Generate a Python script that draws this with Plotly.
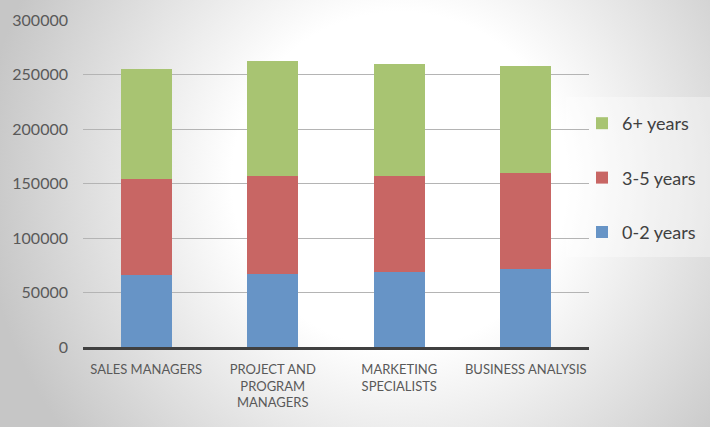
import base64
import plotly.graph_objects as go

categories = ["SALES MANAGERS", "PROJECT AND<br>PROGRAM<br>MANAGERS", "MARKETING<br>SPECIALISTS", "BUSINESS ANALYSIS"]
years_0_2 = [66200, 67100, 68700, 72000]
years_3_5 = [87600, 89800, 88300, 87600]
years_6_plus = [101700, 105900, 103000, 98600]
y_ticks = [0, 50000, 100000, 150000, 200000, 250000, 300000]

W, H = 710, 427
L, R, T, B = 83, 121, 20, 80
PW, PH = W - L - R, H - T - B

svg = f'''<svg xmlns="http://www.w3.org/2000/svg" width="{W}" height="{H}" viewBox="0 0 {W} {H}">
<defs><radialGradient id="g" gradientUnits="userSpaceOnUse" cx="400" cy="180" r="420">
<stop offset="0" stop-color="#ffffff"/><stop offset="0.4" stop-color="#ffffff"/>
<stop offset="1" stop-color="#c6c6c6"/></radialGradient></defs>
<rect x="0" y="0" width="{W}" height="{H}" fill="url(#g)"/></svg>'''
src = "data:image/svg+xml;base64," + base64.b64encode(svg.encode()).decode()

fig = go.Figure()
for name, vals, col, rank in [
    ("0-2 years", years_0_2, "#6794C6", 3),
    ("3-5 years", years_3_5, "#C86664", 2),
    ("6+ years", years_6_plus, "#A8C472", 1),
]:
    fig.add_trace(go.Bar(x=categories, y=vals, name=name, marker_color=col,
                         marker_line_width=0, legendgroup=name, legendrank=rank))

fig.update_layout(
    width=W, height=H, autosize=False,
    margin=dict(l=L, r=R, t=T, b=B, autoexpand=False),
    barmode="stack", bargap=0.6,
    paper_bgcolor="#ffffff", plot_bgcolor="rgba(0,0,0,0)",
    font=dict(family="Lato", color="#595959"),
    images=[dict(source=src, xref="paper", yref="paper",
                 x=-L / PW, y=1 + T / PH, sizex=W / PW, sizey=H / PH,
                 xanchor="left", yanchor="top", sizing="stretch", layer="below")],
    shapes=[dict(type="rect", xref="paper", yref="paper",
                 x0=(566 - L) / PW, x1=(W - L) / PW,
                 y0=(347 - 257) / PH, y1=(347 - 97) / PH,
                 fillcolor="rgba(255,255,255,0.35)", line_width=0, layer="below")],
    legend=dict(traceorder="grouped", tracegroupgap=28,
                xref="container", yref="container",
                x=582 / W, xanchor="left", y=1 - 178 / H, yanchor="middle",
                bgcolor="rgba(0,0,0,0)", font=dict(family="Lato", size=18, color="#404040")),
    xaxis=dict(showline=True, linecolor="#404040", linewidth=3, ticks="",
               tickfont=dict(size=13, color="#595959"), showgrid=False,
               ticklabelstandoff=8),
    yaxis=dict(range=[0, 300000], tickvals=y_ticks, ticktext=[str(v) for v in y_ticks],
               showgrid=True, gridcolor="#b4b4b4", gridwidth=1, zeroline=False,
               tickfont=dict(size=16, color="#595959"), ticklabelstandoff=14),
)

fig.write_html(
    "out.html",
    config={"displayModeBar": False, "responsive": False},
    post_script="document.body.style.margin='0';document.body.style.padding='0';"
                "document.body.style.overflow='hidden';document.documentElement.style.overflow='hidden';",
)
